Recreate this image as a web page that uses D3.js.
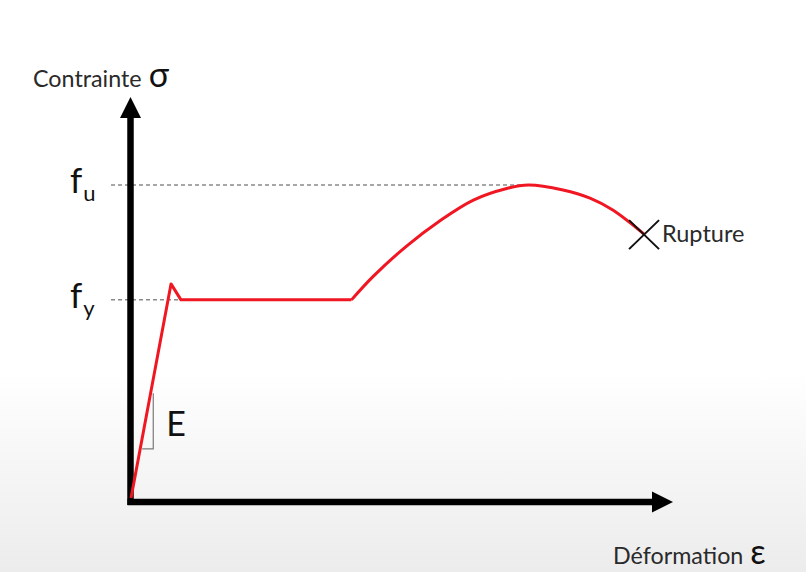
<!DOCTYPE html>
<html><head><meta charset="utf-8">
<script src="https://cdn.jsdelivr.net/npm/d3@7"></script>
<style>html,body{margin:0;padding:0;background:#fff;}svg{display:block;}</style>
</head><body>
<script>
// strain (arbitrary units 0..100) and stress (fu = 100)
const elasticStrain = [0, 7.55, 9.43, 41.6];
const elasticStress = [0, 68.4, 63.3, 63.3];
const hardeningStrain = [41.6, 45.7, 52.0, 58.3, 64.6, 70.9, 75.0, 81.5, 86.6, 90.9, 96.8];
const hardeningStress = [63.3, 70.8, 80.5, 88.6, 95.2, 98.9, 100, 98.4, 95.8, 92.0, 84.3];
const levelNames = ["u", "y"];
const levelValues = [100, 63.3];
const levelEnds = [75.3, 9.43];
const rupture = {strain: 96.8, stress: 84.3, label: "Rupture"};
const axisLabels = {y: "Contrainte", ySym: "σ", x: "Déformation", xSym: "ε"};

const W = 806, H = 572;
const svg = d3.select("body").append("svg").attr("width", W).attr("height", H)
  .style("font-family", "Lato, 'Open Sans', sans-serif");

const defs = svg.append("defs");
const g = defs.append("linearGradient").attr("id","bg").attr("x1",0).attr("y1",0).attr("x2",0).attr("y2",1);
g.append("stop").attr("offset","0%").attr("stop-color","#ffffff");
g.append("stop").attr("offset","65%").attr("stop-color","#ffffff");
g.append("stop").attr("offset","100%").attr("stop-color","#ececec");
svg.append("rect").attr("width",W).attr("height",H).attr("fill","url(#bg)");

const x = d3.scaleLinear().domain([0, 100]).range([131, 661]);
const y = d3.scaleLinear().domain([0, 100]).range([498, 185]);

// dashed reference levels
levelValues.forEach((v, i) => {
  svg.append("line")
    .attr("x1", 111).attr("x2", x(levelEnds[i]))
    .attr("y1", y(v)).attr("y2", y(v))
    .attr("stroke", "#8a8a8a").attr("stroke-width", 1.5).attr("stroke-dasharray", "4,3");
});

// axes
const ox = 130.5, oy = 502;
svg.append("line").attr("x1", ox).attr("x2", ox).attr("y1", oy + 3).attr("y2", 114)
  .attr("stroke", "#000").attr("stroke-width", 6.5);
svg.append("path").attr("d", `M${ox},97 L${ox-10.5},118 L${ox+10.5},118 Z`).attr("fill", "#000");
svg.append("line").attr("x1", ox - 3).attr("x2", 656).attr("y1", oy).attr("y2", oy)
  .attr("stroke", "#000").attr("stroke-width", 6.5);
svg.append("path").attr("d", `M673,${oy} L652,${oy-10.5} L652,${oy+10.5} Z`).attr("fill", "#000");

// slope triangle E
const tx = 4.2, tyLow = 15.7, tyHigh = 33.5;
const xAtLow = x(elasticStrain[1] * tyLow / elasticStress[1]);
svg.append("path")
  .attr("d", `M${xAtLow + 2},${y(tyLow)} L${x(tx)},${y(tyLow)} L${x(tx)},${y(tyHigh)}`)
  .attr("fill", "none").attr("stroke", "#7a7a7a").attr("stroke-width", 1.2);
svg.append("text").attr("x", x(tx) + 13).attr("y", y(tyLow) - 13)
  .attr("font-size", 34).attr("fill", "#111").text("E");

// curve
const red = "#f01622";
const lineLin = d3.line().x(d => x(d[0])).y(d => y(d[1])).curve(d3.curveLinear);
const lineSm = d3.line().x(d => x(d[0])).y(d => y(d[1])).curve(d3.curveCatmullRom.alpha(0.5));
svg.append("path").datum(elasticStrain.map((s, i) => [s, elasticStress[i]]))
  .attr("d", lineLin).attr("fill", "none").attr("stroke", red).attr("stroke-width", 3).attr("stroke-linejoin", "round");
svg.append("path").datum(hardeningStrain.map((s, i) => [s, hardeningStress[i]]))
  .attr("d", lineSm).attr("fill", "none").attr("stroke", red).attr("stroke-width", 3);

// rupture cross
const rx = x(rupture.strain), ry = y(rupture.stress);
svg.append("path").attr("d", `M${rx-15},${ry-14} L${rx+15},${ry+15} M${rx-15},${ry+15} L${rx+15},${ry-14}`)
  .attr("stroke", "#111").attr("stroke-width", 2);
svg.append("text").attr("x", rx + 18).attr("y", ry + 8).attr("font-size", 23.5).attr("fill", "#2a2a2a").text(rupture.label);

// level labels f_u, f_y
levelValues.forEach((v, i) => {
  const t = svg.append("text").attr("x", 70).attr("y", y(v) + 8).attr("font-size", 35).attr("fill", "#111");
  t.append("tspan").text("f");
  t.append("tspan").attr("font-size", 22).attr("dy", 8).attr("dx", 1).text(levelNames[i]);
});

// axis titles
const yt = svg.append("text").attr("x", 33).attr("y", 87).attr("fill", "#2a2a2a");
yt.append("tspan").attr("font-size", 23.3).text(axisLabels.y);
yt.append("tspan").attr("font-size", 34).attr("dx", 7).attr("fill", "#111").text(axisLabels.ySym);
const xt = svg.append("text").attr("x", 613).attr("y", 564).attr("fill", "#2a2a2a");
xt.append("tspan").attr("font-size", 23.3).text(axisLabels.x);
xt.append("tspan").attr("font-size", 34).attr("dx", 7).attr("fill", "#111").text(axisLabels.xSym);
</script>
</body></html>
